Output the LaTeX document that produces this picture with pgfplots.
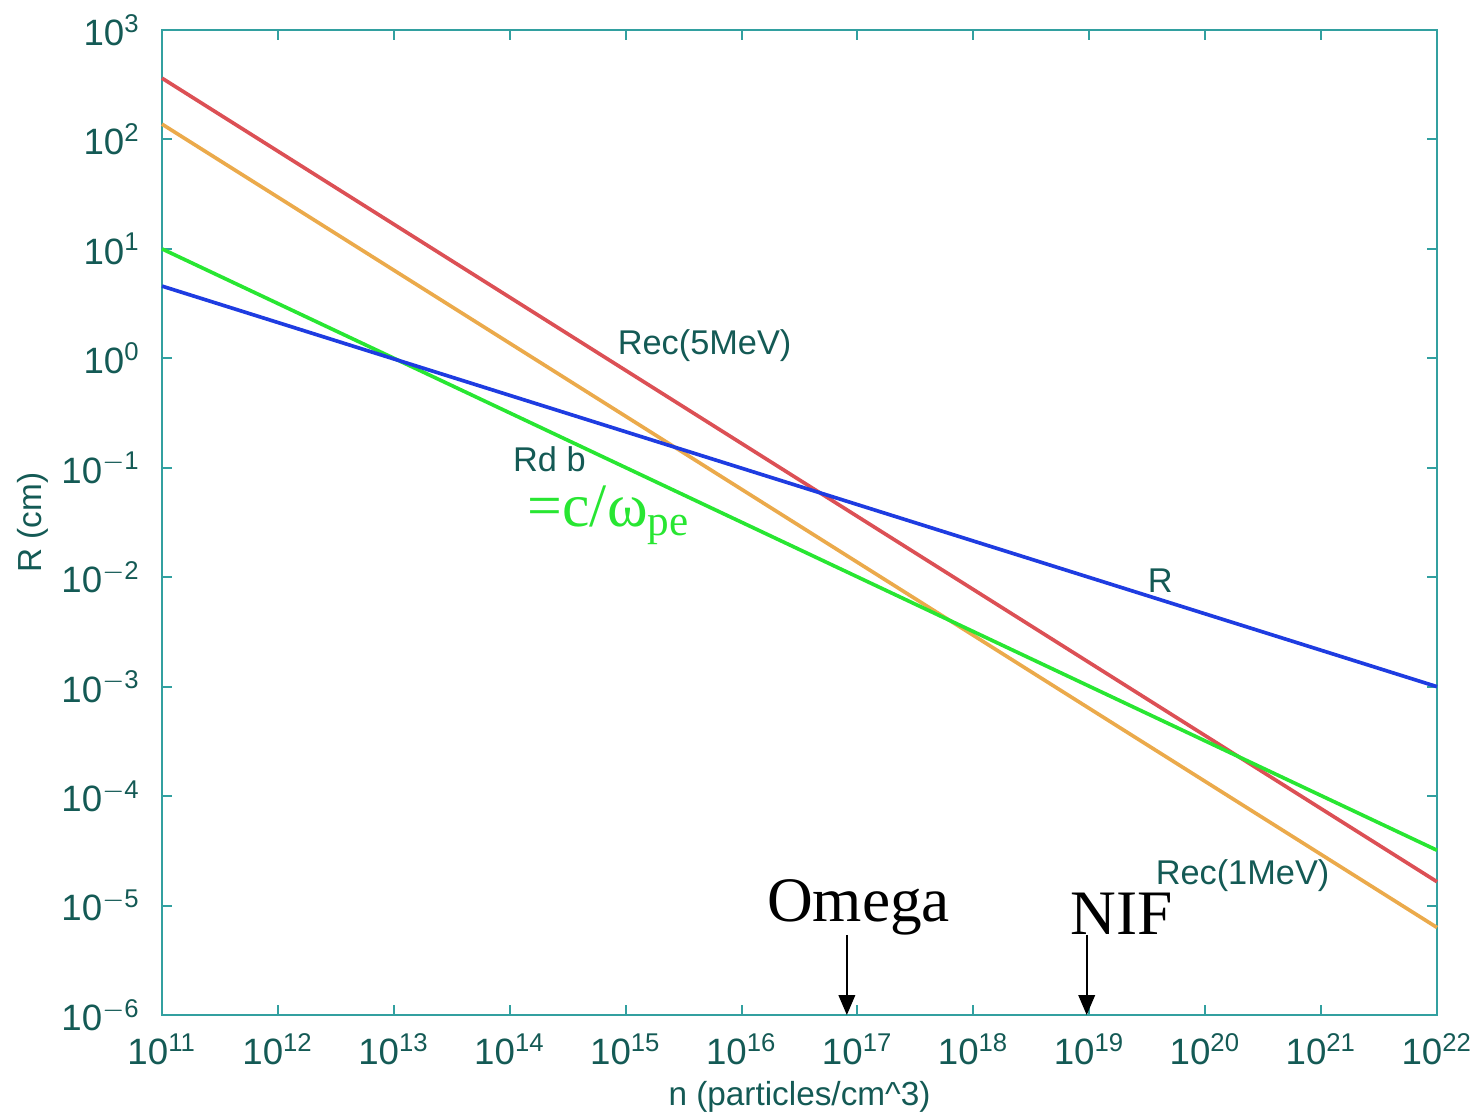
\documentclass[border=0pt]{standalone}
\usepackage{pgfplots}
\pgfplotsset{compat=1.18}
\usepackage{fontspec}
\setmainfont{Liberation Serif}
\setsansfont{Liberation Sans}
\usetikzlibrary{arrows.meta}
\definecolor{axcol}{RGB}{50,160,160}
\definecolor{labcol}{RGB}{20,90,85}
\definecolor{cred}{RGB}{220,80,85}
\definecolor{corange}{RGB}{235,170,75}
\definecolor{cgreen}{RGB}{40,230,50}
\definecolor{cblue}{RGB}{30,60,225}
\begin{document}
\begin{tikzpicture}[x=0.3pt,y=0.3pt]
\begin{loglogaxis}[
  scale only axis,
  width=382.5pt, height=295.5pt,
  xmin=1e11, xmax=1e22, ymin=1e-6, ymax=1e3,
  axis line style={axcol, line width=0.6pt},
  every tick/.style={axcol, line width=0.6pt},
  major tick length=3pt,
  minor tick style={draw=none},
  tick align=inside,
  xtick={1e11,1e12,1e13,1e14,1e15,1e16,1e17,1e18,1e19,1e20,1e21,1e22},
  xticklabels={10\textsuperscript{11},10\textsuperscript{12},10\textsuperscript{13},10\textsuperscript{14},10\textsuperscript{15},10\textsuperscript{16},10\textsuperscript{17},10\textsuperscript{18},10\textsuperscript{19},10\textsuperscript{20},10\textsuperscript{21},10\textsuperscript{22}},
  ytick={1e-6,1e-5,1e-4,1e-3,1e-2,1e-1,1,1e1,1e2,1e3},
  yticklabels={10\textsuperscript{$-$6},10\textsuperscript{$-$5},10\textsuperscript{$-$4},10\textsuperscript{$-$3},10\textsuperscript{$-$2},10\textsuperscript{$-$1},10\textsuperscript{0},10\textsuperscript{1},10\textsuperscript{2},10\textsuperscript{3}},
  ticklabel style={font=\sffamily\fontsize{11}{13}\selectfont, text=labcol},
  xticklabel style={yshift=-2pt},
  yticklabel style={xshift=-3pt},
  xlabel={n (particles/cm\textasciicircum 3)},
  ylabel={R (cm)},
  label style={font=\sffamily\fontsize{10}{12}\selectfont, text=labcol},
  xlabel style={yshift=2pt},
  ylabel style={yshift=-3pt},
  clip=false,
]
\addplot[cred, line width=1.1pt] coordinates {(1e11,363) (1e22,1.65e-5)};
\addplot[corange, line width=1.1pt] coordinates {(1e11,138) (1e22,6.3e-6)};
\addplot[cgreen, line width=1.1pt] coordinates {(1e11,10) (1e22,3.2e-5)};
\addplot[cblue, line width=1.1pt] coordinates {(1e11,4.57) (1e22,1e-3)};
\node[font=\sffamily\fontsize{10.3}{12}\selectfont, text=labcol] at (axis cs:4.8e15,1.32) {Rec(5MeV)};
\node[font=\sffamily\fontsize{10.3}{12}\selectfont, text=labcol, inner sep=0.5pt] at (axis cs:2.2e14,0.12) {Rd b};
\node[font=\fontsize{18.5}{21}\selectfont, text=cgreen, anchor=base west, inner sep=0pt, text height=9pt] at (axis cs:1.41e14,0.029) {=c/ω\textsubscript{pe}};
\node[font=\sffamily\fontsize{10.3}{12}\selectfont, text=labcol] at (axis cs:4.1e19,0.0093) {R};
\node[font=\sffamily\fontsize{10.3}{12}\selectfont, text=labcol] at (axis cs:2.1e20,1.86e-5) {Rec(1MeV)};
\node[font=\fontsize{19}{21}\selectfont, anchor=base, inner sep=0pt] at (axis cs:1.02e17,7.1e-6) {Omega};
\node[font=\fontsize{19}{21}\selectfont, anchor=base, inner sep=0pt] at (axis cs:1.9e19,5.4e-6) {NIF};
\draw[-{Triangle[length=6pt,width=5pt]}, line width=0.5pt] (axis cs:8.1e16,5.4e-6) -- (axis cs:8.1e16,1e-6);
\draw[-{Triangle[length=6pt,width=5pt]}, line width=0.5pt] (axis cs:9.5e18,5.4e-6) -- (axis cs:9.5e18,1e-6);
\end{loglogaxis}
\pgfresetboundingbox
\path (current axis.south west) ++(-48.6pt,-29.4pt) coordinate (bl);
\path (current axis.north east) ++(9.9pt,9pt) coordinate (tr);
\path[use as bounding box] (bl) rectangle (tr);
\end{tikzpicture}
\end{document}
